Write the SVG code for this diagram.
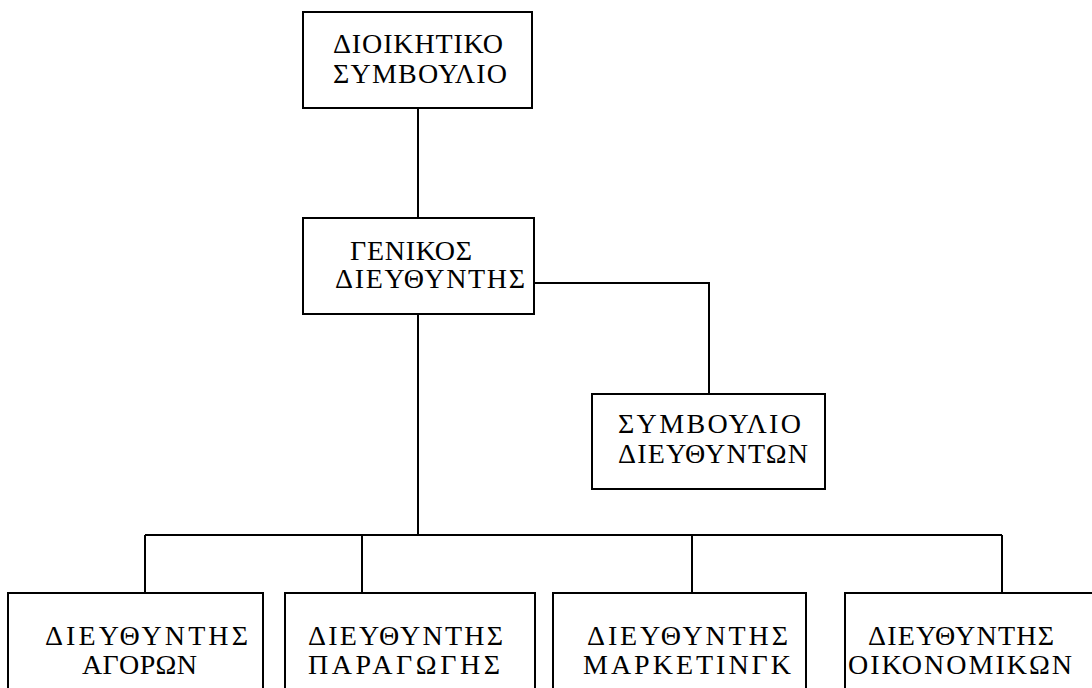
<svg xmlns="http://www.w3.org/2000/svg" width="1092" height="688" viewBox="0 0 1092 688">
  <style>
    .box { fill: #ffffff; stroke: #000000; stroke-width: 2; }
    .conn { fill: none; stroke: #000000; stroke-width: 2; }
    .lbl { font-family: "Liberation Serif", "DejaVu Serif", serif; font-size: 28px; fill: #000000; }
  </style>
  <rect width="1092" height="688" fill="#ffffff"/>
  <g id="connectors">
    <line class="conn" x1="418" y1="108" x2="418" y2="218"/>
    <polyline class="conn" points="534,283 709,283 709,394"/>
    <line class="conn" x1="418" y1="314" x2="418" y2="535"/>
    <line class="conn" x1="145" y1="535" x2="1002" y2="535"/>
    <line class="conn" x1="145" y1="535" x2="145" y2="593"/>
    <line class="conn" x1="362" y1="535" x2="362" y2="593"/>
    <line class="conn" x1="692" y1="535" x2="692" y2="593"/>
    <line class="conn" x1="1002" y1="535" x2="1002" y2="593"/>
  </g>
  <g id="board">
    <rect class="box" x="303" y="12" width="229" height="96"/>
    <text class="lbl" x="333" y="53" textLength="170" lengthAdjust="spacing">ΔΙΟΙΚΗΤΙΚΟ</text>
    <text class="lbl" x="333" y="83" textLength="174" lengthAdjust="spacing">ΣΥΜΒΟΥΛΙΟ</text>
  </g>
  <g id="general-manager">
    <rect class="box" x="303" y="218" width="231" height="96"/>
    <text class="lbl" x="350" y="260" textLength="122" lengthAdjust="spacing">ΓΕΝΙΚΟΣ</text>
    <text class="lbl" x="335" y="288" textLength="190" lengthAdjust="spacing">ΔΙΕΥΘΥΝΤΗΣ</text>
  </g>
  <g id="directors-council">
    <rect class="box" x="592" y="394" width="233" height="95"/>
    <text class="lbl" x="618" y="433" textLength="183" lengthAdjust="spacing">ΣΥΜΒΟΥΛΙΟ</text>
    <text class="lbl" x="618" y="463" textLength="190" lengthAdjust="spacing">ΔΙΕΥΘΥΝΤΩΝ</text>
  </g>
  <g id="markets-director">
    <rect class="box" x="8" y="593" width="255" height="110"/>
    <text class="lbl" x="45" y="645" textLength="203" lengthAdjust="spacing">ΔΙΕΥΘΥΝΤΗΣ</text>
    <text class="lbl" x="82" y="674" textLength="115" lengthAdjust="spacing">ΑΓΟΡΩΝ</text>
  </g>
  <g id="production-director">
    <rect class="box" x="285" y="593" width="250" height="110"/>
    <text class="lbl" x="308" y="645" textLength="195" lengthAdjust="spacing">ΔΙΕΥΘΥΝΤΗΣ</text>
    <text class="lbl" x="308" y="674" textLength="192" lengthAdjust="spacing">ΠΑΡΑΓΩΓΗΣ</text>
  </g>
  <g id="marketing-director">
    <rect class="box" x="553" y="593" width="253" height="110"/>
    <text class="lbl" x="587" y="645" textLength="201" lengthAdjust="spacing">ΔΙΕΥΘΥΝΤΗΣ</text>
    <text class="lbl" x="583" y="674" textLength="208" lengthAdjust="spacing">ΜΑΡΚΕΤΙΝΓΚ</text>
  </g>
  <g id="finance-director">
    <rect class="box" x="845" y="593" width="260" height="110"/>
    <text class="lbl" x="868" y="645" textLength="186" lengthAdjust="spacing">ΔΙΕΥΘΥΝΤΗΣ</text>
    <text class="lbl" x="848" y="674" textLength="224" lengthAdjust="spacing">ΟΙΚΟΝΟΜΙΚΩΝ</text>
  </g>
</svg>
